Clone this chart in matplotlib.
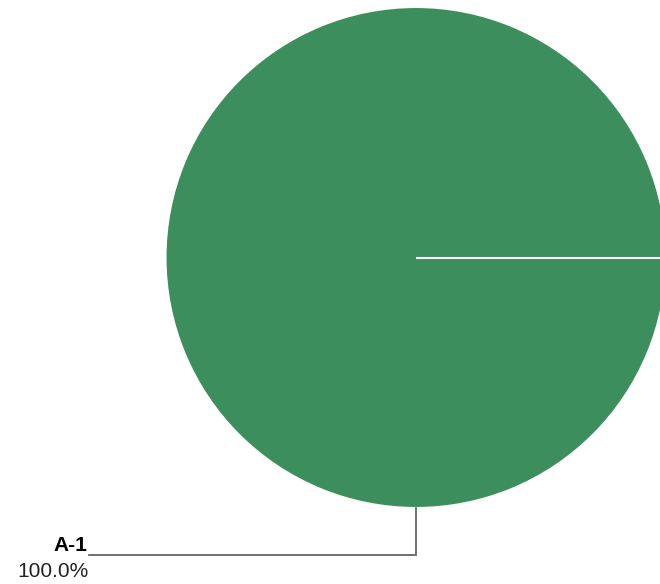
import numpy as np
import matplotlib.pyplot as plt

# 数据
labels = ['A-1']
values = [100.0]
colors = ['#3c8f5c']

plt.rcParams['font.family'] = ['Liberation Sans', 'DejaVu Sans']

fig = plt.figure(figsize=(6.6, 5.84), dpi=100)
ax = fig.add_axes([0, 0, 1, 1])

# 以像素为坐标
cx, cy, r = 416, 257.5, 250.5
start = 0
ax.pie(values, colors=colors, startangle=start, counterclock=False,
       center=(cx, cy), radius=r,
       wedgeprops=dict(edgecolor='white', linewidth=1.5))

# 扇区起始边（整圆时 pie 不画半径）
total = sum(values)
angle = start
for v in values:
    a = np.deg2rad(angle)
    ax.plot([cx, cx + r * np.cos(a)], [cy, cy - r * np.sin(a)],
            color='white', lw=1.5, solid_capstyle='butt')
    angle -= v / total * 360

ax.set_xlim(0, 660)
ax.set_ylim(584, 0)
ax.set_aspect('auto')
ax.axis('off')

# 引线和标签
ax.plot([cx, cx, 89], [cy + r, 555, 555], color='#666666', lw=1.3,
        solid_joinstyle='miter')
ax.text(87, 551, labels[0], ha='right', va='baseline', fontsize=15,
        fontweight='bold', color='#000000')
ax.text(89, 577, '{:.1f}%'.format(values[0] / total * 100), ha='right',
        va='baseline', fontsize=15, color='#222222')

fig.savefig('out.png', dpi=100)
